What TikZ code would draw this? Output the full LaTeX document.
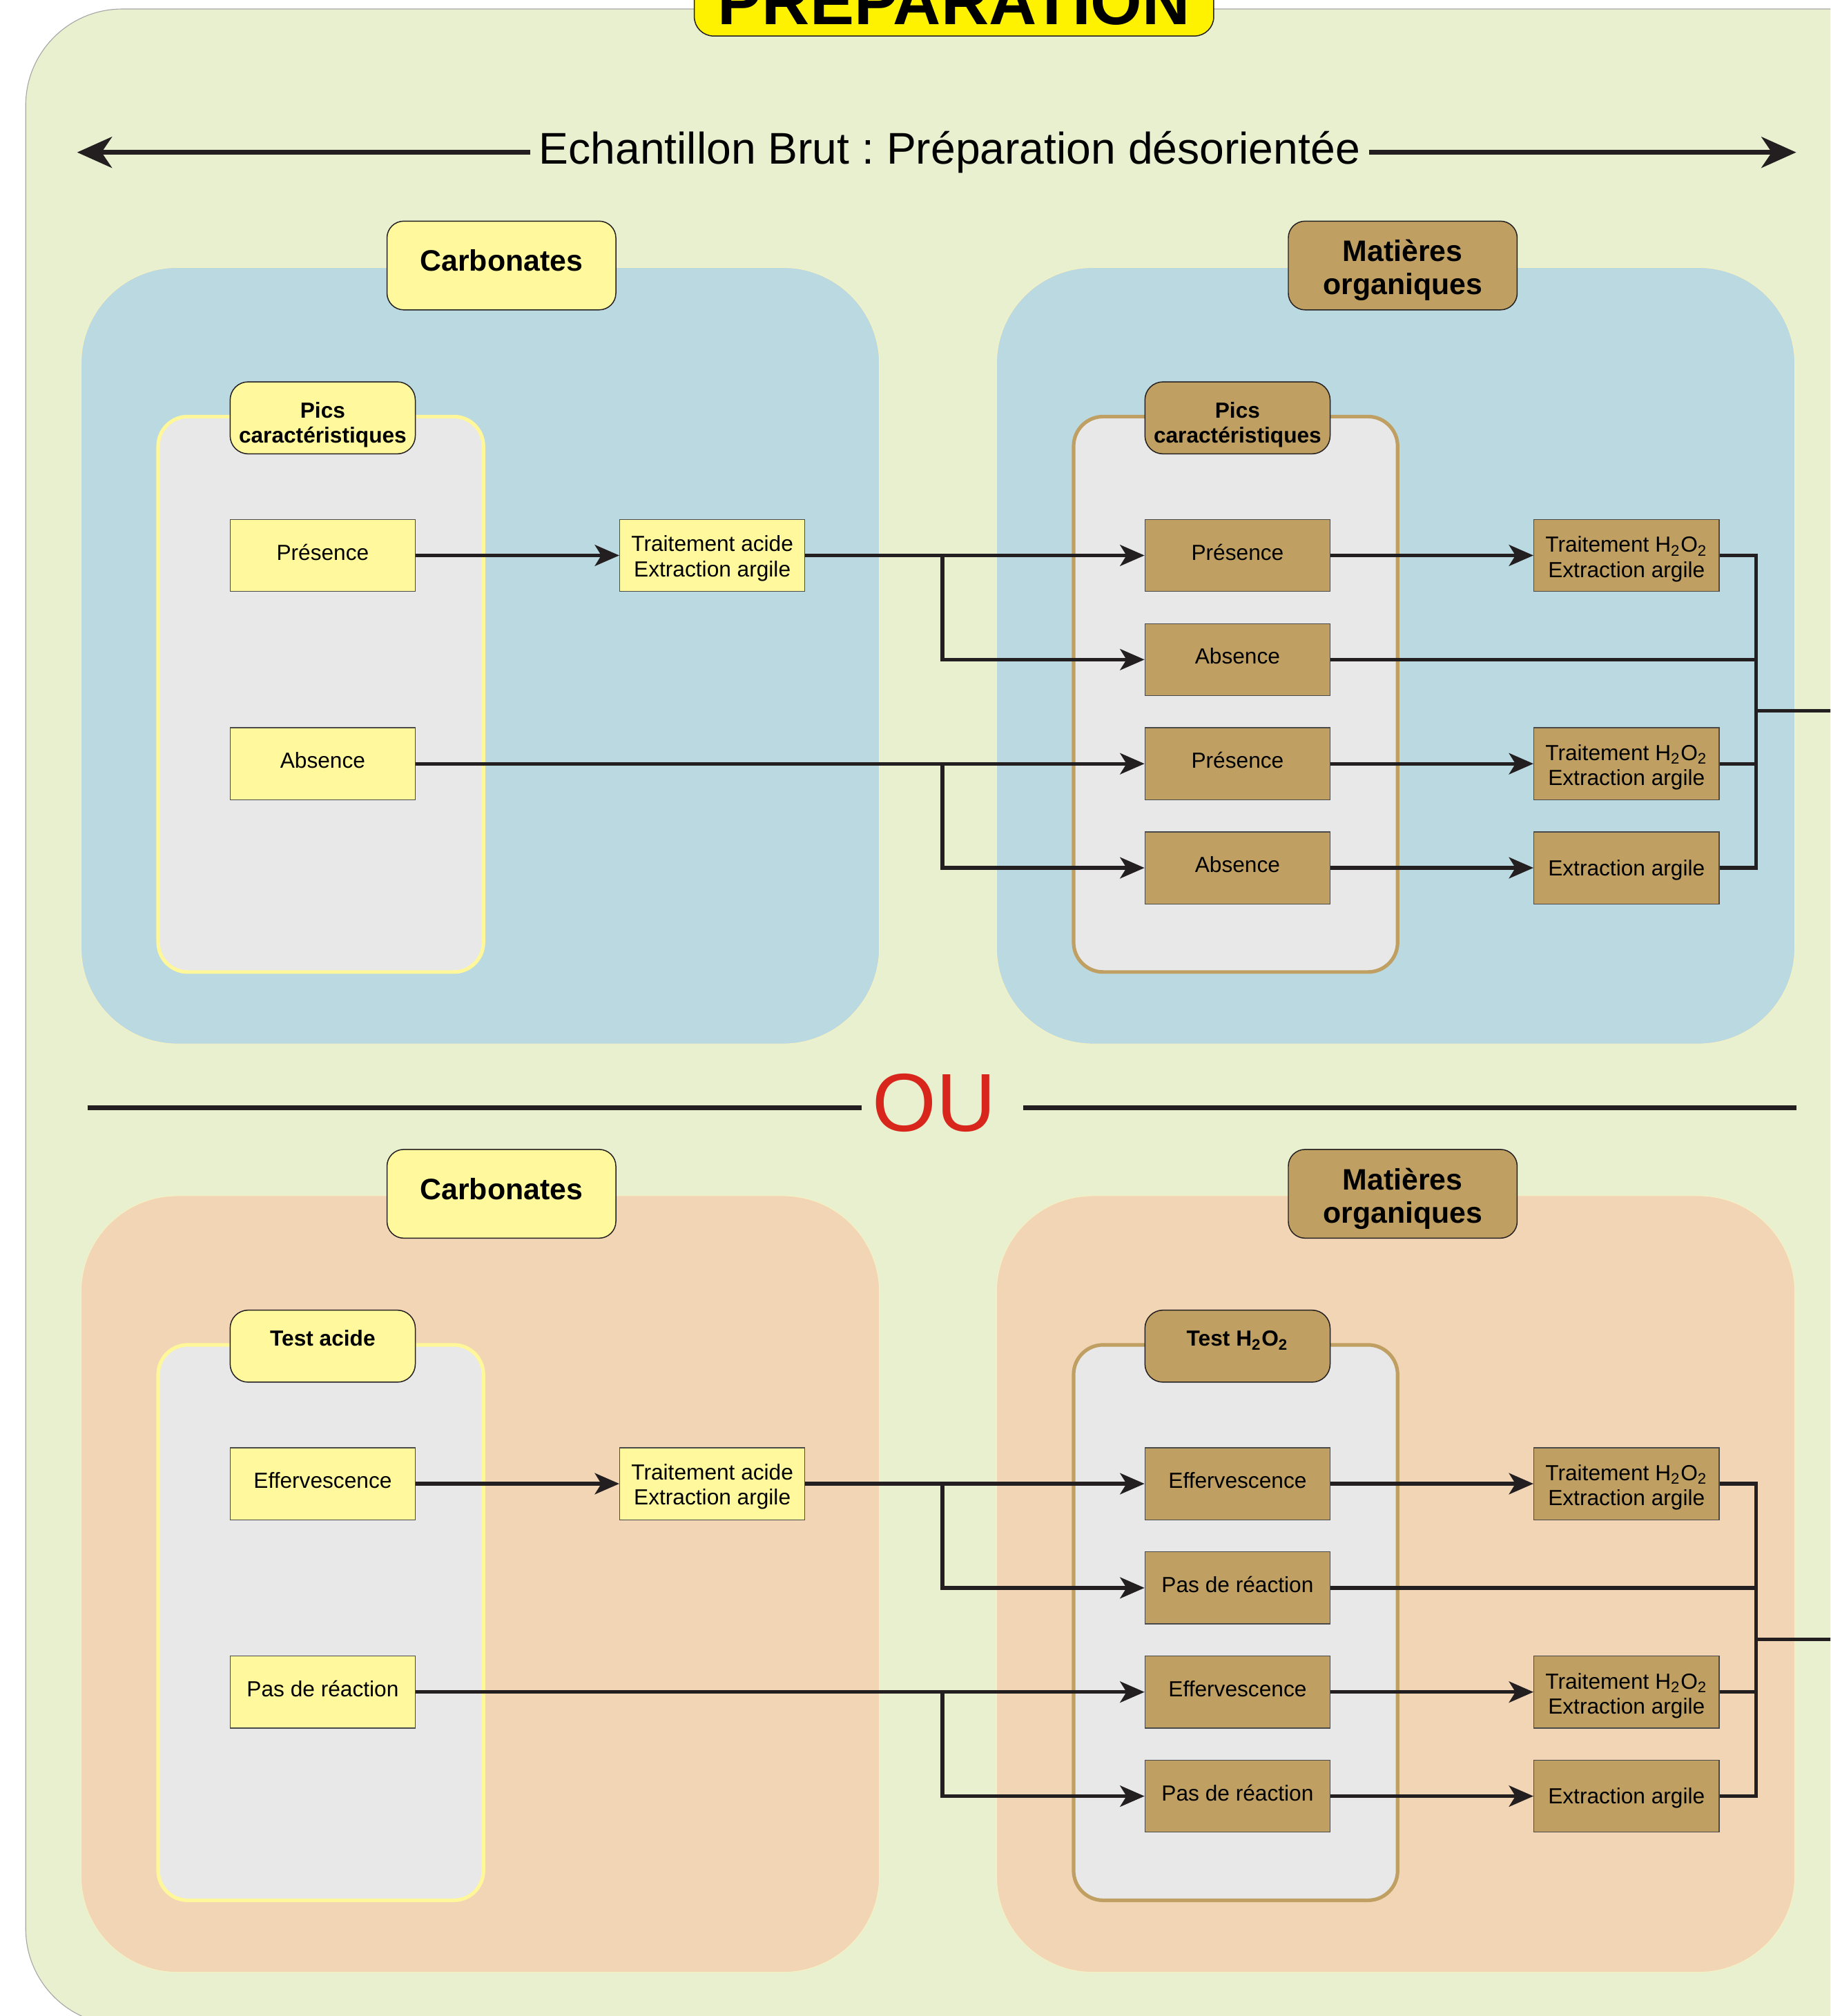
\documentclass[tikz,border=0pt]{standalone}
\usepackage{fontspec}
\setmainfont{Liberation Sans}
\usetikzlibrary{arrows.meta}
\frenchspacing
\definecolor{outerG}{HTML}{E8F0CF}
\definecolor{blueP}{HTML}{BBD9E0}
\definecolor{orangeP}{HTML}{F2D5B5}
\definecolor{grayP}{HTML}{E8E8E8}
\definecolor{lyellow}{HTML}{FFF89C}
\definecolor{ypanel}{HTML}{FFF799}
\definecolor{brownP}{HTML}{C0A062}
\definecolor{titleY}{HTML}{FFF200}
\definecolor{ouRed}{HTML}{D8261D}
\definecolor{ink}{HTML}{231F20}
\definecolor{boxEdge}{HTML}{4A4A4A}
\definecolor{panelEdge}{HTML}{F4F1C4}
\newcommand\topl[1]{\begin{tabular}[t]{@{}c@{}}#1\end{tabular}}
\tikzset{
  panel/.style={rounded corners=37.5pt, draw=panelEdge, line width=0.3pt},
  innerpanel/.style={rounded corners=11.5pt, fill=grayP, line width=1.4pt},
  bigtab/.style={draw=ink, line width=0.4pt, rounded corners=6.5pt, minimum width=89pt, minimum height=34.5pt, inner sep=0pt},
  bigtabtxt/.style={anchor=base, inner sep=0pt, font=\bfseries\fontsize{11.5}{12.75}\selectfont},
  tabbox/.style={draw=ink, line width=0.4pt, rounded corners=7pt, minimum width=72pt, minimum height=28pt, inner sep=0pt},
  tablbl/.style={anchor=base, inner sep=0pt, font=\bfseries\fontsize{8.5}{9.75}\selectfont},
  box/.style={draw=boxEdge, line width=0.35pt, minimum width=72pt, minimum height=28pt, inner sep=0pt},
  lbl/.style={anchor=base, inner sep=0pt, font=\fontsize{8.5}{9.75}\selectfont},
  conn/.style={draw=ink, line width=1.4pt},
  arr/.style={conn, -{Stealth[length=9.5pt,width=8.2pt,inset=2.5pt]}},
  bigarr/.style={draw=ink, line width=2pt, -{Stealth[length=13.5pt,width=12pt,inset=4pt]}},
  sepline/.style={draw=ink, line width=2pt},
}
\newcommand\mkbox[6]{%
  \node[box,fill=#4] (#1) at (#2,#3) {};
  \node[lbl] (#1-t) at (#2,{#3+#6}) {\topl{#5}};}
\newcommand\drawpart[7]{%
\begin{scope}[shift={(0,#1)}, name prefix=#2-]
  \path[panel, fill=#3] (63,208) rectangle (684,812);
  \path[panel, fill=#3] (775,208) rectangle (1396,812);
  \path[innerpanel, draw=ypanel] (123,324) rectangle (376,756);
  \path[innerpanel, draw=brownP] (835,324) rectangle (1087,756);
  \node[bigtab, fill=lyellow] (carb) at (390,206.5) {};
  \node[bigtabtxt] (carb-t) at (390,211) {Carbonates};
  \node[bigtab, fill=brownP] (mat) at (1091,206.5) {};
  \node[bigtabtxt] (mat-t) at (1091,203.5) {\topl{Matières\\organiques}};
  \node[tabbox, fill=lyellow] (ltab) at (251,325) {};
  \node[tablbl] (ltab-t) at (251,325) {\topl{#4}};
  \node[tabbox, fill=brownP] (rtab) at (962.5,325) {};
  \node[tablbl] (rtab-t) at (962.5,325) {\topl{#5}};
  \mkbox{lp}{251}{432}{lyellow}{#6}{3.5}
  \mkbox{ln}{251}{594}{lyellow}{#7}{3.5}
  \mkbox{tac}{554}{432}{lyellow}{Traitement acide\\Extraction argile}{-3}
  \mkbox{r1}{962.5}{432}{brownP}{#6}{3.5}
  \mkbox{r2}{962.5}{513}{brownP}{#7}{3.5}
  \mkbox{r3}{962.5}{594}{brownP}{#6}{3.5}
  \mkbox{r4}{962.5}{675}{brownP}{#7}{3.5}
  \mkbox{f1}{1265}{432}{brownP}{Traitement H\textsubscript{2}O\textsubscript{2}\\Extraction argile}{-2.5}
  \mkbox{f2}{1265}{594}{brownP}{Traitement H\textsubscript{2}O\textsubscript{2}\\Extraction argile}{-2.5}
  \mkbox{f3}{1265}{675}{brownP}{Extraction argile}{6}
  \draw[arr] (lp.east) -- (tac.west);
  \draw[arr] (tac.east) -- (r1.west);
  \coordinate (b1) at (733,432);
  \draw[arr] (b1) |- (r2.west);
  \draw[arr] (ln.east) -- (r3.west);
  \coordinate (b2) at (733,594);
  \draw[arr] (b2) |- (r4.west);
  \draw[arr] (r1.east) -- (f1.west);
  \draw[arr] (r3.east) -- (f2.west);
  \draw[arr] (r4.east) -- (f3.west);
  \coordinate (ct) at (1366,432);
  \coordinate (cb) at (1366,675);
  \draw[conn] (f1.east) -- (ct) -- (cb) -- (f3.east);
  \draw[conn] (r2.east) -- (r2.east -| cb);
  \draw[conn] (f2.east) -- (f2.east -| cb);
  \coordinate (cm) at (1366,553);
  \coordinate (out) at (1440,553);
  \draw[conn] (cm) -- (out);
\end{scope}}
\begin{document}
\begin{tikzpicture}[x=0.5pt, y=-0.5pt]
  \useasboundingbox (0,0) rectangle (1423.6,1568);
  \clip (0,0) rectangle (1423.6,1568);
  \path[fill=outerG, draw=black!35, line width=0.3pt, rounded corners=37.5pt] (20,7) rectangle (1500,1575);
  \node[draw=ink, line width=0.4pt, fill=titleY, rounded corners=7.5pt, minimum width=202pt, minimum height=34pt, inner sep=0pt] (titlebox) at (742,-6) {};
  \node[anchor=base, inner sep=0pt, font=\bfseries\fontsize{25.75}{30}\selectfont] (title) at (742,19) {PRÉPARATION};
  \node[anchor=base, inner xsep=3.2pt, inner ysep=0pt, font=\fontsize{17.25}{20}\selectfont] (echan) at (738.5,127.5) {Echantillon Brut : Préparation désorientée};
  \coordinate (tipL) at (60,118.5);
  \coordinate (tipR) at (1397,118.5);
  \draw[bigarr] (tipL -| echan.west) -- (tipL);
  \draw[bigarr] (tipR -| echan.east) -- (tipR);
  \drawpart{0}{U}{blueP}{Pics\\caractéristiques}{Pics\\caractéristiques}{Présence}{Absence}
  \node[anchor=base, inner sep=0pt, text=ouRed, font=\fontsize{32}{36}\selectfont] (ou) at (726.5,880) {OU};
  \coordinate (ouA) at (68,861.5);
  \coordinate (ouB) at (670,861.5);
  \coordinate (ouC) at (796,861.5);
  \coordinate (ouD) at (1397,861.5);
  \draw[sepline] (ouA) -- (ouB);
  \draw[sepline] (ouC) -- (ouD);
  \drawpart{722}{L}{orangeP}{Test acide}{Test H\textsubscript{2}O\textsubscript{2}}{Effervescence}{Pas de réaction}
\end{tikzpicture}
\end{document}
